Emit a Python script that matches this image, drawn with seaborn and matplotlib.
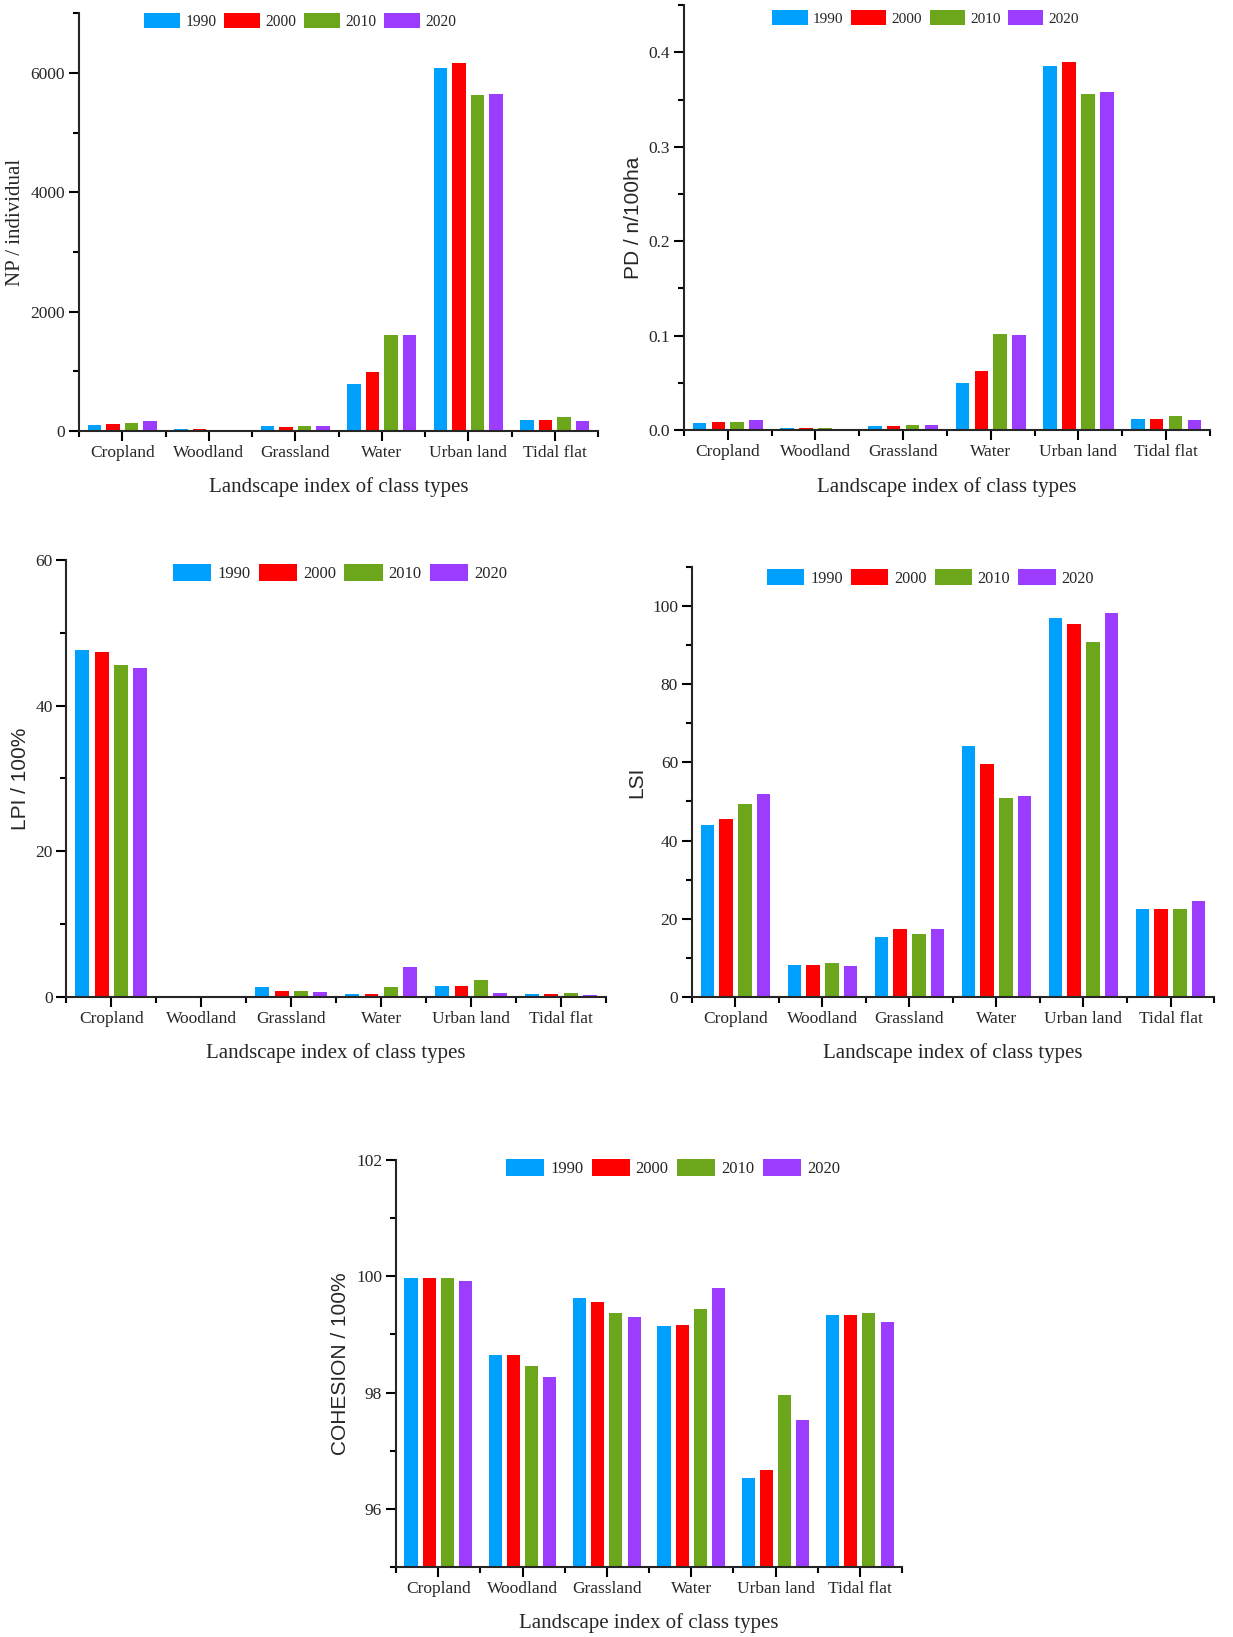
import numpy as np
import pandas as pd
import matplotlib
matplotlib.use('Agg')
import matplotlib.pyplot as plt
from matplotlib.ticker import MultipleLocator, FormatStrFormatter
import seaborn as sns

sns.set_style('ticks')
plt.rcParams['font.family'] = ['Liberation Serif', 'DejaVu Serif']

classes = ['Cropland', 'Woodland', 'Grassland', 'Water', 'Urban land', 'Tidal flat']
years = ['1990', '2000', '2010', '2020']
colors = ['#00A0FF', '#FF0000', '#6CA61A', '#9B3CFF']

# values, one list per year (same order as classes)
np_vals = {
    '1990': [100, 28, 84, 780, 6084, 184],
    '2000': [118, 28, 73, 992, 6156, 184],
    '2010': [134, 25, 78, 1604, 5621, 234],
    '2020': [162, 25, 84, 1604, 5638, 162],
}
pd_vals = {
    '1990': [0.007, 0.0025, 0.0046, 0.050, 0.3855, 0.012],
    '2000': [0.008, 0.0025, 0.0046, 0.063, 0.390, 0.012],
    '2010': [0.009, 0.0025, 0.0056, 0.102, 0.356, 0.0145],
    '2020': [0.011, 0.0015, 0.0056, 0.101, 0.3576, 0.011],
}
lpi_vals = {
    '1990': [47.56, 0.02, 1.38, 0.41, 1.52, 0.41],
    '2000': [47.4, 0.02, 0.83, 0.41, 1.52, 0.41],
    '2010': [45.6, 0.02, 0.83, 1.38, 2.35, 0.55],
    '2020': [45.1, 0.02, 0.69, 4.1, 0.55, 0.28],
}
lsi_vals = {
    '1990': [44.1, 8.1, 15.4, 64.1, 96.8, 22.4],
    '2000': [45.5, 8.1, 17.5, 59.7, 95.5, 22.4],
    '2010': [49.3, 8.7, 16.1, 50.9, 90.7, 22.6],
    '2020': [52.0, 7.85, 17.5, 51.5, 98.1, 24.5],
}
cohesion_vals = {
    '1990': [99.97, 98.65, 99.62, 99.15, 96.53, 99.33],
    '2000': [99.97, 98.65, 99.55, 99.17, 96.67, 99.33],
    '2010': [99.97, 98.45, 99.37, 99.43, 97.95, 99.37],
    '2020': [99.91, 98.26, 99.30, 99.79, 97.53, 99.22],
}


def draw(ax, vals, ylabel, yfont, ylim, major, minor, fmt, leg_xy, leg_size):
    df = pd.DataFrame(vals, index=classes).reset_index()
    df = df.melt(id_vars='index', var_name='Year', value_name='value')
    sns.barplot(data=df, x='index', y='value', hue='Year', hue_order=years,
                palette=colors, saturation=1, width=0.86, gap=0.28,
                linewidth=0, ax=ax)
    sns.despine(ax=ax)
    for s in ['left', 'bottom']:
        ax.spines[s].set_linewidth(1.5)
    ax.set_xlim(-0.5, 5.5)
    ax.set_ylim(*ylim)
    ax.set_xticks(np.arange(-0.5, 6, 1), minor=True)
    ax.yaxis.set_major_locator(MultipleLocator(major))
    ax.yaxis.set_minor_locator(MultipleLocator(minor))
    ax.yaxis.set_major_formatter(FormatStrFormatter(fmt))
    ax.tick_params(which='major', direction='out', length=7, width=1.5,
                   labelsize=12.5, pad=3, color='black')
    ax.tick_params(which='minor', direction='out', length=4, width=1.5, color='black')
    ax.set_xlabel('Landscape index of class types', fontsize=15, labelpad=12)
    ax.set_ylabel(ylabel, fontsize=15, family=yfont)

    # rebuild seaborn's legend as one row at the top of the panel
    leg = ax.get_legend()
    handles = leg.legend_handles
    labels = [t.get_text() for t in leg.get_texts()]
    ax.legend(handles, labels, loc='center', bbox_to_anchor=leg_xy, ncol=4,
              frameon=False, handlelength=2.3, handleheight=1.15,
              handletextpad=0.35, columnspacing=0.5, borderaxespad=0,
              borderpad=0, fontsize=leg_size)


fig = plt.figure(figsize=(12.33, 16.37), dpi=100)

ax1 = fig.add_axes([0.0641, 0.7367, 0.4209, 0.2553])
draw(ax1, np_vals, 'NP / individual', ['Liberation Serif'], (0, 7000), 2000, 1000,
     '%d', (0.426, 0.981), 11.2)

ax2 = fig.add_axes([0.5547, 0.7373, 0.4266, 0.2596])
draw(ax2, pd_vals, 'PD / n/100ha', ['Liberation Sans'], (0, 0.45), 0.1, 0.05,
     '%.1f', (0.46, 0.970), 11)

ax3 = fig.add_axes([0.0539, 0.3910, 0.4376, 0.2670])
draw(ax3, lpi_vals, 'LPI / 100%', ['Liberation Sans'], (0, 60), 20, 10,
     '%d', (0.507, 0.970), 12)

ax4 = fig.add_axes([0.5612, 0.3910, 0.4234, 0.2627])
draw(ax4, lsi_vals, 'LSI', ['Liberation Sans'], (0, 110), 20, 10,
     '%d', (0.457, 0.974), 11.7)

ax5 = fig.add_axes([0.3212, 0.0428, 0.4104, 0.2486])
draw(ax5, cohesion_vals, 'COHESION / 100%', ['Liberation Sans'], (95, 102), 2, 1,
     '%d', (0.547, 0.980), 12)
ax5.set_yticks([96, 98, 100, 102])

fig.savefig('out.png', dpi=100)
